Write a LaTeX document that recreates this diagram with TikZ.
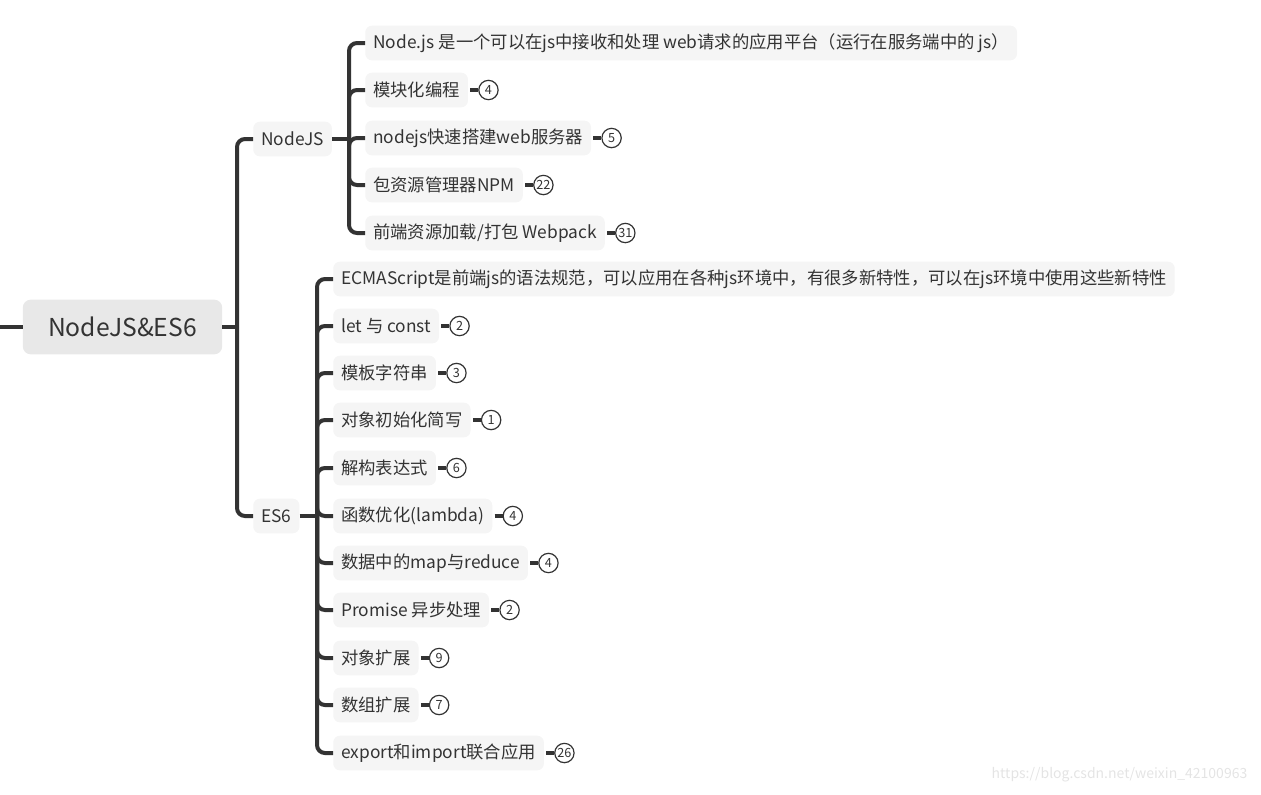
\documentclass[tikz,border=0pt]{standalone}
\usepackage{fontspec}
\setmainfont{Noto Sans CJK SC}
\usepackage{tikz}
\usetikzlibrary{positioning}
\usepackage{xcolor}
\definecolor{linegray}{RGB}{51,51,51}
\definecolor{rootfill}{RGB}{232,232,232}
\definecolor{leaffill}{RGB}{245,245,245}
\definecolor{textgray}{RGB}{51,51,51}
\definecolor{markgray}{RGB}{228,228,228}

\begin{document}
\begin{tikzpicture}[x=0.75pt, y=-0.75pt,
  branch/.style={linegray, line width=3pt, rounded corners=6pt},
  rootbox/.style={fill=rootfill, rounded corners=6pt, text=textgray, inner xsep=19pt,
    minimum height=41pt, font=\fontsize{18.5}{20}\selectfont},
  leaf/.style={fill=leaffill, rounded corners=5pt, text=textgray, inner xsep=6pt,
    minimum height=26pt, anchor=west, font=\fontsize{13}{15}\selectfont},
  badge/.style={circle, draw=linegray, line width=0.9pt, inner sep=0.3pt, minimum size=14.5pt,
    text=textgray, font=\fontsize{9.5}{10}\selectfont},
  tick/.style={linegray, line width=3pt, shorten <=1.5pt}]
  \useasboundingbox (0,0) rectangle (1261,794);

  % root
  \node[rootbox] (root) at (122.5,327) {NodeJS\&ES6};
  \coordinate (stub) at (0,327);
  \coordinate (j0) at (237,327);
  \draw[branch] (stub) -- (root);
  \draw[branch] (root) -- (j0);

  % main topics
  \node[leaf] (nodejs) at (253,139) {NodeJS};
  \node[leaf] (es6) at (253,516) {ES6};
  \draw[branch] (j0) |- (nodejs);
  \draw[branch] (j0) |- (es6);

  % NodeJS branch
  \coordinate (j1) at (349,139);
  \draw[branch] (nodejs) -- (j1);
  \node[leaf] (n1) at (365,43) {Node.js 是一个可以在js中接收和处理 web请求的应用平台（运行在服务端中的 js）};
  \node[leaf] (n2) at (365,90) {模块化编程};
  \node[leaf] (n3) at (365,138) {nodejs快速搭建web服务器};
  \node[leaf] (n4) at (365,185) {包资源管理器NPM};
  \node[leaf] (n5) at (365,233) {前端资源加载/打包 Webpack};
  \foreach \c in {n1,n2,n3,n4,n5}
    \draw[branch] (j1) |- (\c);

  \node[badge, right=7.5pt of n2] (b2) {4};
  \node[badge, right=7.5pt of n3] (b3) {5};
  \node[badge, right=7.5pt of n4] (b4) {22};
  \node[badge, right=7.5pt of n5] (b5) {31};
  \draw[tick] (n2) -- (b2);
  \draw[tick] (n3) -- (b3);
  \draw[tick] (n4) -- (b4);
  \draw[tick] (n5) -- (b5);

  % ES6 branch
  \coordinate (j2) at (317,516);
  \draw[branch] (es6) -- (j2);
  \node[leaf] (e1) at (333,279) {ECMAScript是前端js的语法规范，可以应用在各种js环境中，有很多新特性，可以在js环境中使用这些新特性};
  \node[leaf] (e2) at (333,326) {let 与 const};
  \node[leaf] (e3) at (333,373) {模板字符串};
  \node[leaf] (e4) at (333,420) {对象初始化简写};
  \node[leaf] (e5) at (333,468) {解构表达式};
  \node[leaf] (e6) at (333,516) {函数优化(lambda)};
  \node[leaf] (e7) at (333,563) {数据中的map与reduce};
  \node[leaf] (e8) at (333,610) {Promise 异步处理};
  \node[leaf] (e9) at (333,658) {对象扩展};
  \node[leaf] (e10) at (333,705) {数组扩展};
  \node[leaf] (e11) at (333,753) {export和import联合应用};
  \foreach \c in {e1,e2,e3,e4,e5,e6,e7,e8,e9,e10,e11}
    \draw[branch] (j2) |- (\c);

  \node[badge, right=7.5pt of e2] (c2) {2};
  \node[badge, right=7.5pt of e3] (c3) {3};
  \node[badge, right=7.5pt of e4] (c4) {1};
  \node[badge, right=7.5pt of e5] (c5) {6};
  \node[badge, right=7.5pt of e6] (c6) {4};
  \node[badge, right=7.5pt of e7] (c7) {4};
  \node[badge, right=7.5pt of e8] (c8) {2};
  \node[badge, right=7.5pt of e9] (c9) {9};
  \node[badge, right=7.5pt of e10] (c10) {7};
  \node[badge, right=7.5pt of e11] (c11) {26};
  \draw[tick] (e2) -- (c2);
  \draw[tick] (e3) -- (c3);
  \draw[tick] (e4) -- (c4);
  \draw[tick] (e5) -- (c5);
  \draw[tick] (e6) -- (c6);
  \draw[tick] (e7) -- (c7);
  \draw[tick] (e8) -- (c8);
  \draw[tick] (e9) -- (c9);
  \draw[tick] (e10) -- (c10);
  \draw[tick] (e11) -- (c11);

  % watermark
  \node[anchor=east, text=markgray, font=\fontsize{10.5}{12}\selectfont] (mark) at (1252,775)
    {https://blog.csdn.net/weixin\_42100963};
\end{tikzpicture}
\end{document}
